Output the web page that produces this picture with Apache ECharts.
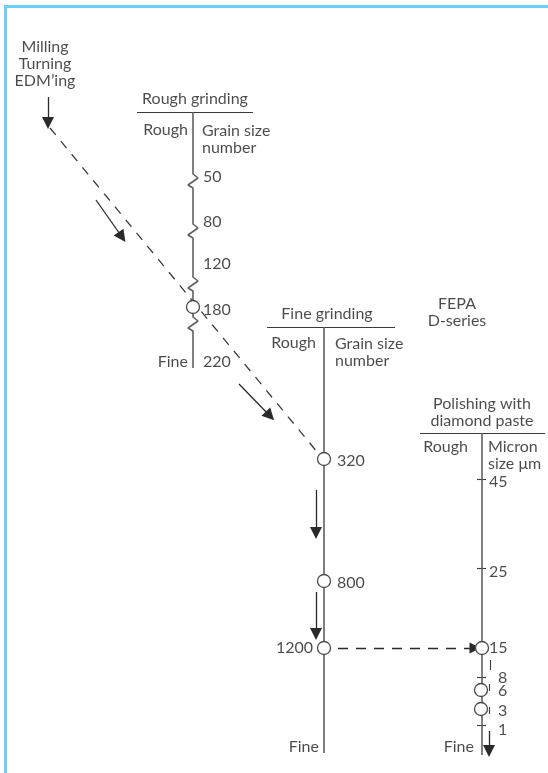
<!DOCTYPE html>
<html><head><meta charset="utf-8">
<script src="https://cdn.jsdelivr.net/npm/echarts@6/dist/echarts.min.js"></script>
<style>html,body{margin:0;padding:0;background:#fff}#c{width:548px;height:773px}</style>
</head><body><div id="c"></div>
<script>
// ---- Diagram data (diagram units = page pixels) ----
// Rough grinding scale (x = 193)
const roughX = 193;
const roughLineTop = 112, roughLineBottom = 368;
const roughGrits = ['50', '80', '120', '180', '220'];
const roughGritY = [177, 222, 264, 310, 362];
const roughBreaksY = [181, 231, 284, 324];
// Fine grinding scale (x = 324)
const fineX = 324;
const fineLineTop = 327, fineLineBottom = 753;
const fineGrits = ['320', '800', '1200'];
const fineGritY = [461, 583, 648];
// Polishing scale (x = 482)
const polishX = 482;
const polishLineTop = 433, polishLineBottom = 755;
const polishSizes = ['45', '25', '15', '8', '6', '3', '1'];
const polishSizeY = [482, 572, 648, 678, 691, 711, 730];
const polishTickY = [479, 568, 677, 725];
// Selected steps (circles)
const selectedPoints = [[193, 307], [324, 459], [324, 581], [324, 648], [482, 648], [481, 690], [481, 709]];
// Process path
const processPath = [[50, 128], [318, 453]];
const transferPath = [[338, 648], [475, 648]];
const arrows = [
  [[48, 97], [48, 123]],
  [[96, 200], [122, 237]],
  [[239, 384], [270, 416]],
  [[316, 490], [316, 533]],
  [[316, 592], [316, 634]],
  [[489, 731], [489, 751]]
];

const FONT = 'Lato';
const TXT = '#1f1b1c';
const AX = '#5f6063';

function buildScale(x, top, bottom, breaks) {
  const pts = [[x, top]];
  breaks.forEach(z => {
    pts.push([x, z - 7], [x + 5, z - 3], [x - 5, z + 4], [x, z + 7]);
  });
  pts.push([x, bottom]);
  return pts;
}
function seg(a, b) { return { coords: [a, b] }; }

function textSeries(items, pos, extra) {
  return Object.assign({
    type: 'scatter', silent: true, symbolSize: 0.01, z: 5,
    data: items.map(d => [d[0], d[1], d[2]]),
    label: {
      show: true, position: pos, distance: 0,
      formatter: p => p.value[2],
      color: TXT, fontFamily: FONT, fontSize: 16, lineHeight: 17
    }
  }, extra || {});
}

const leftTexts = [];
roughGrits.forEach((g, i) => leftTexts.push([roughX + 10, roughGritY[i], g]));
leftTexts.push([337, fineGritY[0], fineGrits[0]]);
leftTexts.push([337, fineGritY[1], fineGrits[1]]);
polishSizes.forEach((s, i) => {
  const x = i < 3 ? 489 : 498;
  leftTexts.push([x, polishSizeY[i], s]);
});
leftTexts.push([202, 139, 'Grain size\nnumber']);
leftTexts.push([335, 352, 'Grain size\nnumber']);
leftTexts.push([488, 455, 'Micron\nsize μm']);

const rightTexts = [
  [313, fineGritY[2], fineGrits[2]],
  [188, 130, 'Rough'], [188, 362, 'Fine'],
  [316, 343, 'Rough'], [319, 747, 'Fine'],
  [468, 447, 'Rough'], [474, 747, 'Fine']
];
const centerTexts = [
  [45, 64, 'Milling\nTurning\nEDM’ing'],
  [195, 99, 'Rough grinding'],
  [327, 314, 'Fine grinding'],
  [457, 312, 'FEPA\nD-series'],
  [482, 412, 'Polishing with\ndiamond paste']
];

const arrowHead = 'path://M5,0L10,17L0,17Z';

const chart = echarts.init(document.getElementById('c'));
chart.setOption({
  animation: false,
  grid: { left: 0, right: 0, top: 0, bottom: 0 },
  xAxis: { type: 'value', min: 0, max: 548, show: false },
  yAxis: { type: 'value', min: 0, max: 773, inverse: true, show: false },
  graphic: [{
    type: 'polyline', silent: true,
    shape: { points: [[5.5, 773], [5.5, 6.5], [548, 6.5]] },
    style: { stroke: '#6ccff5', lineWidth: 3, fill: null }
  }],
  series: [
    { type: 'line', silent: true, symbol: 'none', data: buildScale(roughX, roughLineTop, roughLineBottom, roughBreaksY),
      lineStyle: { color: AX, width: 1.6 } },
    { type: 'line', silent: true, symbol: 'none', data: [[fineX, fineLineTop], [fineX, fineLineBottom]],
      lineStyle: { color: AX, width: 1.6 } },
    { type: 'line', silent: true, symbol: 'none', data: [[polishX, polishLineTop], [polishX, polishLineBottom]],
      lineStyle: { color: AX, width: 1.6 } },
    { type: 'lines', coordinateSystem: 'cartesian2d', silent: true,
      data: [seg([137, roughLineTop], [253, roughLineTop]), seg([267, fineLineTop], [395, fineLineTop]), seg([420, polishLineTop], [545, polishLineTop])]
        .concat(polishTickY.map(y => seg([polishX - 5, y], [polishX + 4, y])))
        .concat([seg([490, 660], [490, 670]), seg([489, 684], [489, 691]), seg([489, 707], [489, 714])]),
      lineStyle: { color: '#3a3a3a', width: 1.1, opacity: 1 } },
    { type: 'lines', coordinateSystem: 'cartesian2d', silent: true, z: 3,
      data: [seg(processPath[0], processPath[1])],
      lineStyle: { color: '#3a3a3a', width: 1.3, type: [9, 8], opacity: 1 } },
    { type: 'lines', coordinateSystem: 'cartesian2d', silent: true, z: 3,
      symbol: ['none', arrowHead], symbolSize: [7, 11],
      data: [seg(transferPath[0], transferPath[1])],
      lineStyle: { color: '#2a2a2a', width: 1.3, type: [10, 8], opacity: 1 } },
    { type: 'lines', coordinateSystem: 'cartesian2d', silent: true, z: 3,
      symbol: ['none', arrowHead], symbolSize: [7, 12],
      data: arrows.map(a => seg(a[0], a[1])),
      lineStyle: { color: '#2a2a2a', width: 1.3, opacity: 1 } },
    { type: 'scatter', silent: true, z: 4, symbol: 'circle', symbolSize: 13,
      data: selectedPoints,
      itemStyle: { color: '#fff', borderColor: '#4a4a4a', borderWidth: 1.3, opacity: 1 } },
    textSeries(leftTexts, 'right'),
    textSeries(rightTexts, 'left'),
    textSeries(centerTexts, 'inside')
  ]
});
</script></body></html>
